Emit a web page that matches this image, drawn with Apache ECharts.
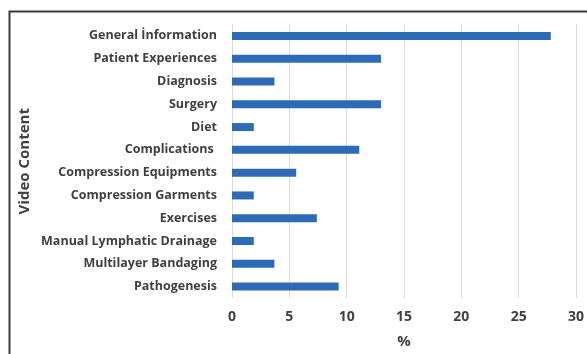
<!DOCTYPE html>
<html>
<head>
<meta charset="utf-8">
<script src="https://cdn.jsdelivr.net/npm/echarts@6/dist/echarts.min.js"></script>
<style>
  html, body { margin: 0; padding: 0; background: #fff; }
  #chart { width: 587px; height: 354px; }
</style>
</head>
<body>
<div id="chart"></div>
<script>
// Video content categories, listed top to bottom
const categories = [
  'General İnformation',
  'Patient Experiences',
  'Diagnosis',
  'Surgery',
  'Diet',
  'Complications ',
  'Compression Equipments',
  'Compression Garments',
  'Exercises',
  'Manual Lymphatic Drainage',
  'Multilayer Bandaging',
  'Pathogenesis'
];

// Share of videos (%) per category
const percentages = [27.8, 13.0, 3.7, 13.0, 1.9, 11.1, 5.6, 1.9, 7.4, 1.9, 3.7, 9.3];

// Value axis ticks
const axisMin = 0;
const axisMax = 30;
const axisStep = 5;

const labelFont = '"Open Sans", "Liberation Sans", sans-serif';
const textColor = '#404040';

const chart = echarts.init(document.getElementById('chart'), null, { renderer: 'canvas' });

chart.setOption({
  animation: false,
  backgroundColor: '#ffffff',
  graphic: [{
    type: 'rect',
    left: 7,
    top: 9,
    shape: { width: 620, height: 400 },
    style: { fill: 'none', stroke: '#3c3c3c', lineWidth: 2 },
    silent: true,
    z: 0
  }],
  grid: {
    left: 232,
    right: 8,
    top: 24.5,
    bottom: 54.5,
    containLabel: false
  },
  xAxis: {
    type: 'value',
    min: axisMin,
    max: axisMax,
    interval: axisStep,
    name: '%',
    nameLocation: 'middle',
    nameGap: 36,
    nameMoveOverlap: false,
    nameTextStyle: { fontFamily: labelFont, fontWeight: 'bold', fontSize: 15, color: textColor },
    axisLine: { show: false },
    axisTick: { show: false },
    axisLabel: { margin: 12, fontFamily: labelFont, fontWeight: 'bold', fontSize: 14, color: textColor },
    splitLine: { show: true, lineStyle: { color: '#d9d9d9', width: 1 } }
  },
  yAxis: {
    type: 'category',
    data: categories,
    inverse: true,
    name: 'Video Content',
    nameLocation: 'middle',
    nameGap: 200,
    nameMoveOverlap: false,
    nameRotate: 90,
    nameTextStyle: { fontFamily: labelFont, fontWeight: 'bold', fontSize: 15, color: textColor },
    axisLine: { show: false },
    axisTick: { show: false },
    axisLabel: { margin: 15, fontFamily: labelFont, fontWeight: 'bold', fontSize: 12.5, color: textColor },
    splitLine: { show: false }
  },
  series: [{
    type: 'bar',
    data: percentages,
    barWidth: 8,
    itemStyle: { color: '#2e6bb6' },
    silent: true
  }]
});
</script>
</body>
</html>
